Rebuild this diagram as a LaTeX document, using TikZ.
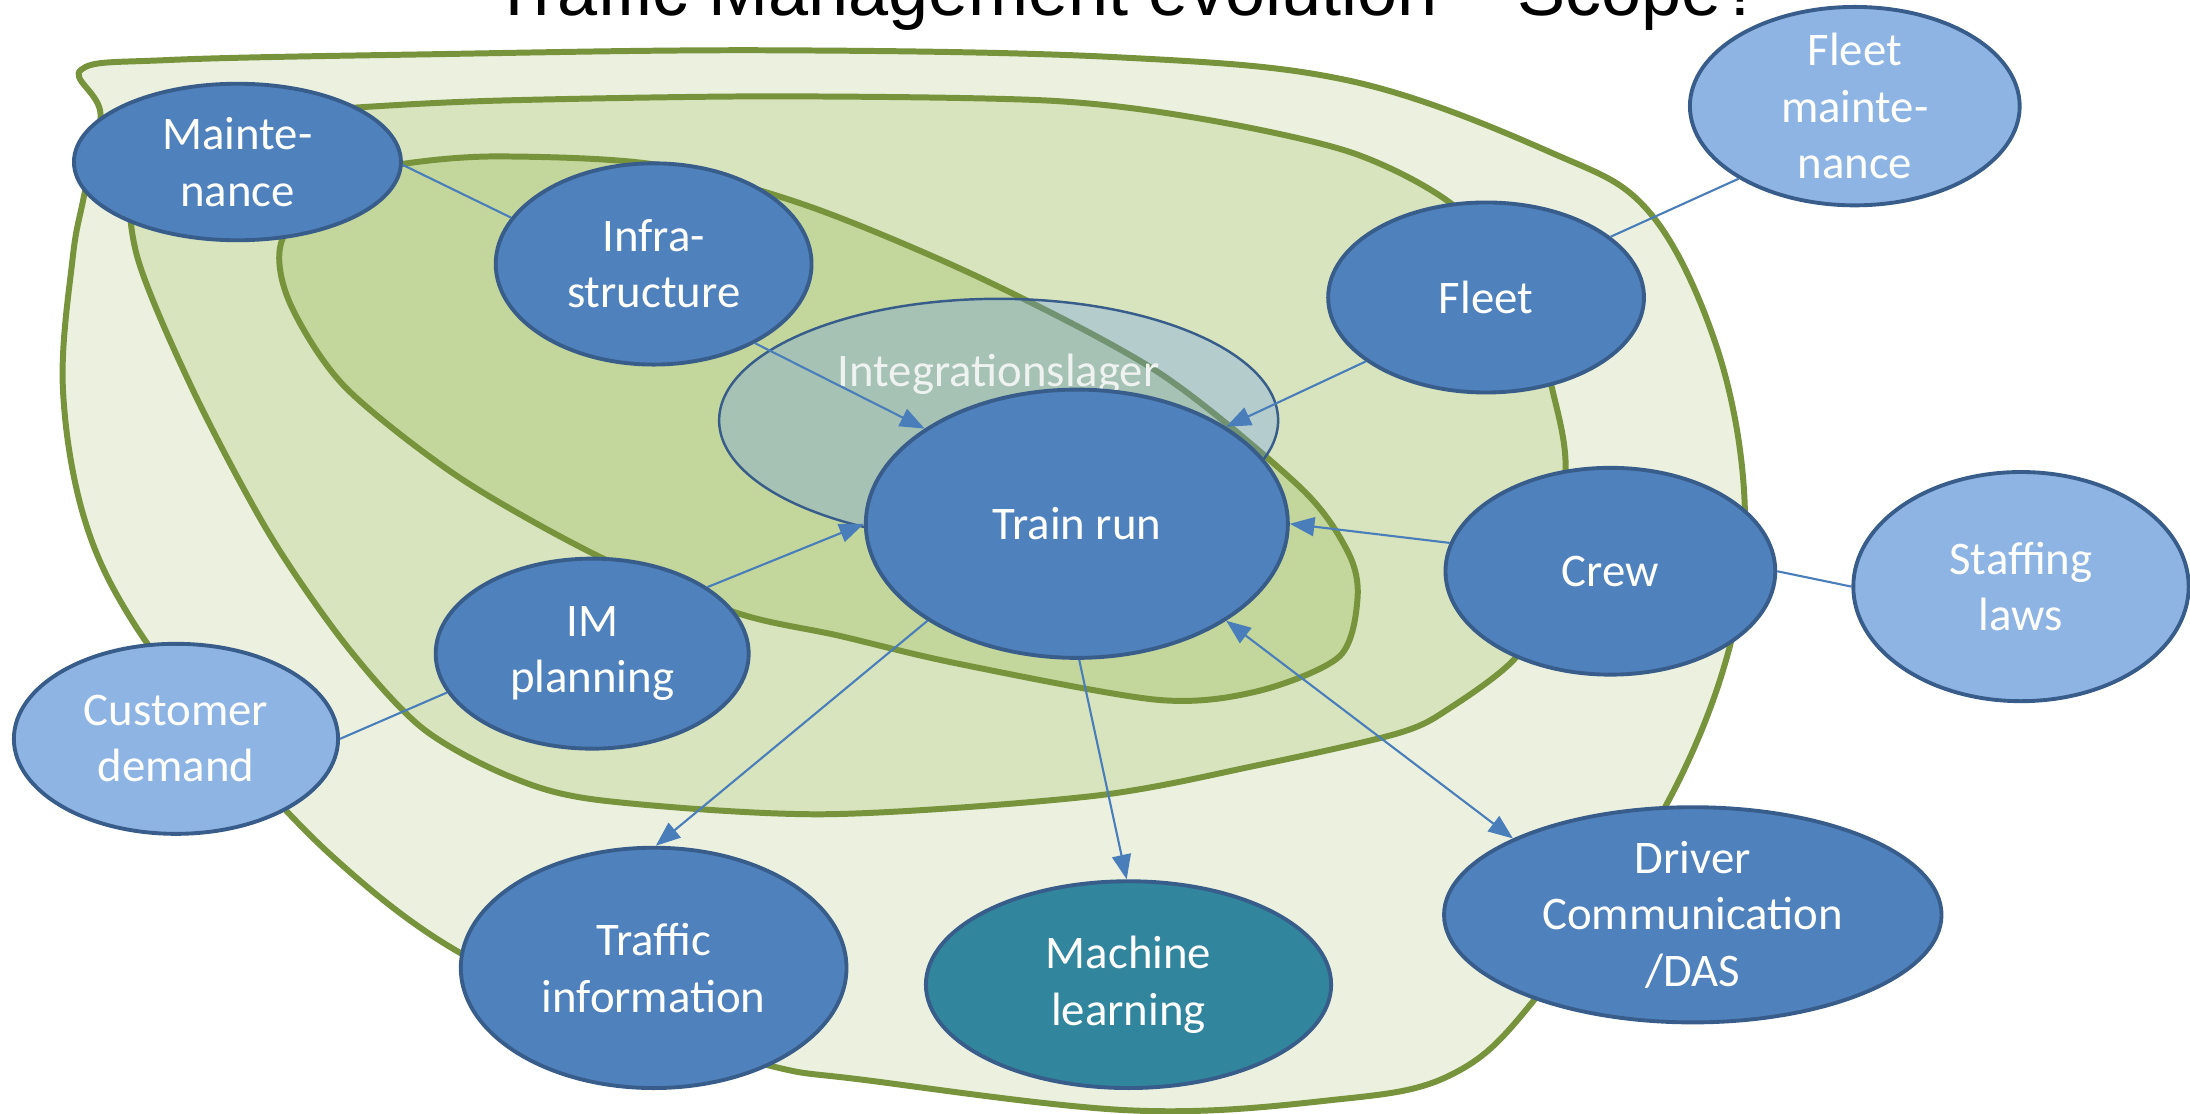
\documentclass[tikz,border=0pt]{standalone}
\usepackage{fontspec}
\setmainfont{Carlito}
\newfontfamily\headfont{Liberation Sans}
\usetikzlibrary{shapes.geometric,arrows.meta}
\definecolor{zoneout}{HTML}{EBF1DE}
\definecolor{zonemid}{HTML}{D7E4BD}
\definecolor{zonein}{HTML}{C3D69B}
\definecolor{zoneline}{HTML}{77933C}
\definecolor{bubbleblue}{HTML}{4F81BD}
\definecolor{bubbleline}{HTML}{385D8A}
\definecolor{bubblelight}{HTML}{8EB4E3}
\definecolor{bubbleteal}{HTML}{31859C}
\definecolor{linkblue}{HTML}{4A7EBB}
\definecolor{integblue}{HTML}{6496F0}
\definecolor{integtext}{HTML}{EEF2F0}
\tikzset{
>={Triangle[length=7pt,width=5.4pt]}, % filled triangle heads
x=0.013967cm, y=-0.013967cm, % one unit = one pixel of the sketch, y pointing down
every node/.style={font=\fontsize{13.3}{16}\selectfont, text=white, align=center},
bubble/.style 2 args={ellipse, draw=bubbleline, line width=1.1pt, fill=bubbleblue, inner sep=-8pt,
  minimum width=#1*0.027934cm, minimum height=#2*0.027934cm}, % #1, #2 = half axes
faded/.style={fill=bubblelight}, % topics outside the scope
zone/.style={draw=zoneline, line width=1.7pt}, % the three scope areas
link/.style={linkblue, line width=0.6pt}, % connectors, tips in the same blue
}

\begin{document}
\begin{tikzpicture}
\useasboundingbox (0,0) rectangle (1568,797);
\clip (0,0) rectangle (1568,797);

% scope areas, outer to inner
\draw[zone, fill=zoneout] plot[smooth cycle, tension=0.6] coordinates {
(58,50) (120,43) (300,39) (550,36) (800,41) (967,58) (1110,109) (1181,152)
(1229,248) (1249,357) (1239,461) (1191,580) (1100,714) (1038,770) (950,788)
(809,795) (617,773) (551,763) (440,730) (329,682) (240,615) (160,530)
(95,445) (60,370) (45,277) (52,185) (60,141) (72,82)};
\draw[zone, fill=zonemid] plot[smooth cycle] coordinates {
(97,179) (100,115) (170,84) (255,77) (358,72) (550,69) (750,72) (860,85)
(967,109) (1038,145) (1090,200) (1111,277) (1121,335) (1110,420) (1086,470)
(1038,507) (1001,525) (900,548) (782,570) (590,583) (430,573) (365,556)
(302,521) (247,461) (192,381) (137,277)};
\draw[zone, fill=zonein] plot[smooth cycle] coordinates {
(201,175) (230,130) (291,117) (358,112) (470,118) (580,148) (704,200)
(830,267) (931,349) (965,395) (972,428) (959,470) (900,495) (828,501)
(685,475) (600,455) (528,439) (430,399) (329,342) (247,277) (208,218)};

% integration layer
\node[ellipse, draw=bubbleline, line width=0.7pt, fill=integblue, fill opacity=0.3, inner sep=0pt,
  minimum width=200*0.027934cm, minimum height=87*0.027934cm] (integ) at (715,301) {};
\node[anchor=base, text=integtext] (integlabel) at (715,277) {Integrationslager};

\node[font=\headfont\fontsize{20.5}{24}\selectfont, text=black, anchor=base] (title) at (807,11)
  {Traffic Management evolution – Scope?};

\node[bubble={117}{56}] (maint) at (170,116) {Mainte-\\nance};
\node[bubble={113}{72}] (infra) at (468,189) {Infra-\\structure};
\node[bubble={113}{68}] (fleet) at (1064,213) {Fleet};
\node[bubble={118}{71}, faded] (fmaint) at (1328,76) {Fleet\\mainte-\\nance};
\node[bubble={151}{96}] (train) at (771,375) {Train run};
\node[bubble={118}{74}] (crew) at (1153,409) {Crew};
\node[bubble={120}{82}, faded] (staff) at (1447,420) {Staffing\\laws};
\node[bubble={112}{68}] (im) at (424,468) {IM\\planning};
\node[bubble={116}{68}, faded] (cust) at (126,529) {Customer\\demand};
\node[bubble={138}{86}] (info) at (468,693) {Traffic\\information};
\node[bubble={145}{74}, fill=bubbleteal] (ml) at (808,705) {Machine\\learning};
\node[bubble={178}{77}] (das) at (1212,655) {Driver\\Communication\\/DAS};

\draw[link]
(maint.-1) edge (infra.162)
(infra.-38) edge[->] (train.148)
(fleet.208) edge[->] (train.33)
(fleet.26) edge (fmaint.212)
(crew.170) edge[->] (train.0)
(crew.0) edge (staff.180)
(im.30) edge[->] (train.180)
(im.195) edge (cust.0)
(train.213) edge[->] (info.89)
(train.-89) edge[->] (ml.91)
(train.-33) edge[<->] (das.157)
;
\end{tikzpicture}
\end{document}
